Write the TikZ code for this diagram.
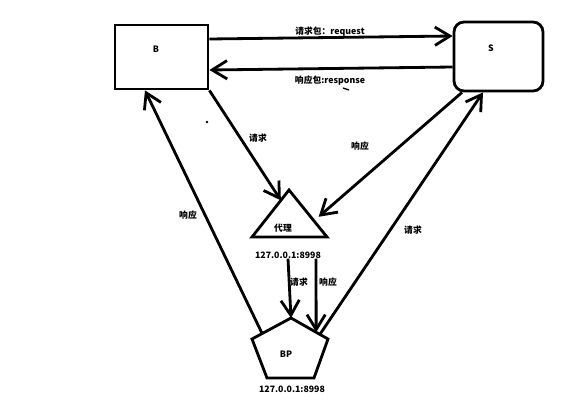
\documentclass[tikz,border=0pt]{standalone}
\usepackage{fontspec}
\setmainfont{Noto Sans CJK SC}
\usetikzlibrary{arrows.meta,calc,positioning}

\begin{document}
\begin{tikzpicture}[
  x=0.03cm, y=-0.03cm,
  box/.style={rectangle, draw, line width=2.4pt, minimum width=2.79cm, minimum height=1.92cm},
  arrow/.style={-{Straight Barb[length=4.5mm,width=5.5mm]}, line width=2.4pt},
  txt/.style={font=\fontsize{7.5}{9}\selectfont\bfseries, inner sep=0pt}
]
\useasboundingbox (0,0) rectangle (583,420);

% Browser and server
\node[box] (B) at (161.5,57) {};
\node[box, rounded corners=0.3cm, minimum width=2.67cm, minimum height=2.07cm] (S) at (498.5,56.5) {};
\node[txt] (Btext) at (156,49) {B};
\node[txt] (Stext) at (491,48) {S};

% Proxy
\coordinate (tA) at (289,190);
\coordinate (tL) at (252,237);
\coordinate (tR) at (327,237);
\draw[line width=2.4pt] (tA) -- (tL) -- (tR) -- cycle;
\node[txt] (proxy) at (283,228) {代理};
\node[txt] (proxyaddr) at (288,255) {127.0.0.1:8998};

% BP
\coordinate (pA) at (291,318);
\coordinate (pR) at (328,339);
\coordinate (pBR) at (314,378);
\coordinate (pBL) at (267,378);
\coordinate (pL) at (252,339);
\draw[line width=2.4pt] (pA) -- (pR) -- (pBR) -- (pBL) -- (pL) -- cycle;
\node[txt] (BP) at (286,354) {BP};
\node[txt] (BPaddr) at (292,389) {127.0.0.1:8998};

% Labels
\node[txt] (reqpkt) at (330,32) {请求包：request};
\node[txt] (resppkt) at (330,81) {响应包:response};
\node[txt] (req1) at (258,138) {请求};
\node[txt] (resp1) at (360,146) {响应};
\node[txt] (resp2) at (188,215) {响应};
\node[txt] (req2) at (413,230) {请求};
\node[txt] (req3) at (299,282) {请求};
\node[txt] (resp3) at (328,282) {响应};

\draw[arrow] (B.east |- 0,39) -- (S.west |- 0,36);
\draw[arrow] (S.west |- 0,67) -- (B.east |- 0,70);
\draw[arrow] (B.south east) -- ($(tA)!0.22!(tL)$);
\draw[arrow] (S.south -| 462,0) -- ($(tA)!0.57!(tR)+(8,0)$);
\draw[arrow] (proxyaddr.south -| 288,0) -- (pA);
\draw[arrow] (proxyaddr.south -| 316,0) -- ($(pA)!0.68!(pR)$);
\draw[arrow] ($(pA)!0.74!(pL)$) -- (B.south -| 145,0);
\draw[arrow] ($(pA)!0.78!(pR)$) -- (S.south -| 483,0);

% stray marks
\fill (207,122) circle (1.3);
\draw[line width=1.2pt] (343,88) -- (349,90);
\end{tikzpicture}
\end{document}
